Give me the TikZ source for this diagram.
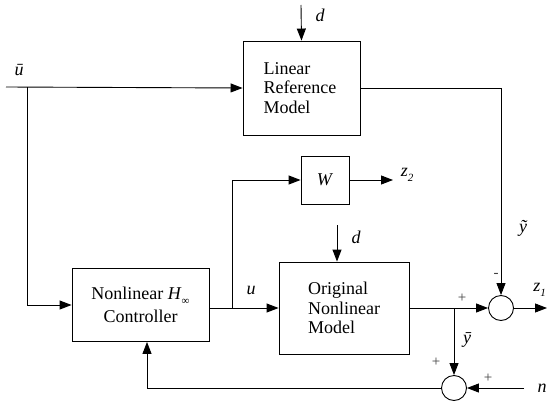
\documentclass[tikz,border=0pt]{standalone}
\usepackage{fontspec}
\setmainfont{Liberation Serif}
\usepackage{tikz}
\usetikzlibrary{arrows.meta,positioning}
\newcommand{\lowsub}[1]{\raisebox{-5pt}{\fontsize{11}{11}\selectfont #1}}

\begin{document}
\begin{tikzpicture}[x=1pt,y=-1pt,line width=0.9pt,>={Triangle[length=12pt,width=9pt]},
  font=\fontsize{18}{19.5}\selectfont,
  blk/.style={draw,inner sep=0pt},
  sum/.style={draw,circle,minimum size=25pt,inner sep=0pt},
  sig/.style={font=\fontsize{18}{18}\selectfont\itshape},
  sgn/.style={font=\fontsize{15}{15}\selectfont,black!75}]
\useasboundingbox (0,0) rectangle (548,404);
% blocks
\node[blk,minimum width=117pt,minimum height=94pt,align=left,text width=76pt] (lrm) at (301.5,88) {Linear\\Reference\\Model};
\node[blk,minimum width=48pt,minimum height=48pt] (w) at (325,180) {\textit{W}};
\node[blk,minimum width=137pt,minimum height=73pt,align=center] (ctrl) at (140.5,305) {Nonlinear \textit{H}\lowsub{∞}\\[3pt]Controller};
\node[blk,minimum width=130pt,minimum height=92pt,align=left] (orig) at (344,308) {Original\\Nonlinear\\Model};
% summing junctions
\node[sum] (sum1) at (501,308) {};
\node[sum] (sum2) at (454,388) {};
% free ends
\coordinate (uin) at (6,87);
\coordinate (ub) at (27,87);
\coordinate (din) at (301,5);
\coordinate (dtwo) at (337,225);
\coordinate (ubr) at (232,308);
\coordinate (ybr) at (454,308);
\coordinate (ztwo) at (393,180);
\coordinate (zone) at (547,308);
\coordinate (nin) at (524,388);
% signals
\draw[->] (uin) -- (lrm.west);
\draw[->] (ub) |- (ctrl.west);
\draw[->] (din) -- (lrm.north);
\draw[->] (lrm.east) -| (sum1.north);
\draw (ctrl.east |- ubr) -- (ubr);
\draw[->] (ubr) -- (orig.west);
\draw[->] (ubr) |- (w.west);
\draw[->] (w.east) -- (ztwo);
\draw[->] (dtwo) -- (dtwo |- orig.north);
\draw[->] (orig.east) -- (sum1.west);
\draw[->] (ybr) -- (sum2.north);
\draw[->] (sum1.east) -- (zone);
\draw[->] (nin) -- (sum2.east);
\draw[->] (sum2.west) -| ([xshift=6.5pt]ctrl.south);
% labels
\node[sig] (lubar) at (19,70) {ū};
\node[sig] (ldone) at (320,15) {d};
\node[sig] (ldtwo) at (356,237) {d};
\node[sig] (lztwo) at (407,175) {z\lowsub{2}};
\node[sig] (lytil) at (523,228) {ỹ};
\node[sig] (lu) at (251,290) {u};
\node[sig] (lybar) at (467,340) {ȳ};
\node[sig,anchor=west,inner sep=0pt] (lzone) at (533,290) {z\lowsub{1}};
\node[sig] (ln) at (542,388) {n};
\node[sgn] (sminus) at (496,275) {-};
\node[sgn] (splus1) at (462,298) {+};
\node[sgn] (splus2) at (436,362) {+};
\node[sgn] (splus3) at (488,378) {+};
\end{tikzpicture}
\end{document}
